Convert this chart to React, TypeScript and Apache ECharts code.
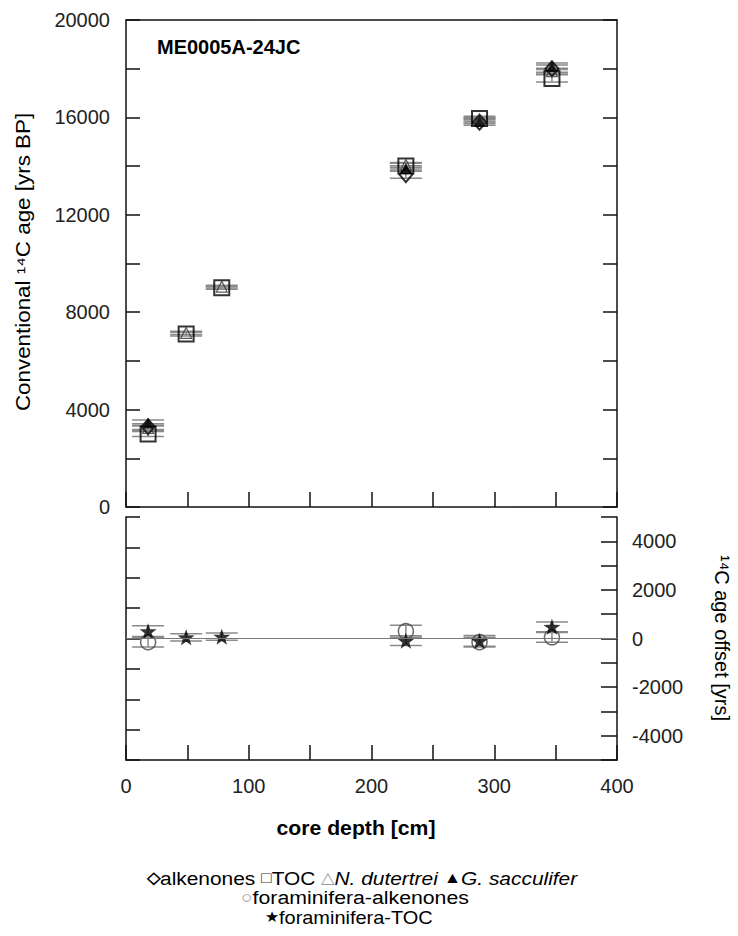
import React, { useEffect, useRef } from "react";
import * as echarts from "echarts";

// ---- data ----
const depths = [18, 49, 78, 228, 288, 347];
const alkenones = [3300, null, null, 13650, 15800, 18000];
const alkenonesErr = [120, null, null, 150, 120, 150];
const toc = [3000, 7100, 9000, 14000, 15950, 17600];
const tocErr = [100, 80, 60, 120, 100, 150];
const nDutertrei = [3250, 7150, 9050, 14050, 15900, 17900];
const nDutertreiErr = [110, 70, 60, 100, 90, 120];
const gSacculifer = [3450, null, null, 13900, 15850, 18100];
const gSacculiferErr = [120, null, null, 110, 100, 130];
const foramAlk = [-150, null, null, 300, -150, 50];
const foramAlkErr = [200, null, null, 250, 200, 200];
const foramToc = [300, 50, 75, -90, -100, 480];
const foramTocErr = [220, 150, 150, 200, 220, 200];

const topTicks = [0, 4000, 8000, 12000, 16000, 20000];
const offsetTicks = [-4000, -2000, 0, 2000, 4000];
const depthTicks = [0, 100, 200, 300, 400];

const FONT = "'Liberation Sans', Arial, sans-serif";
const STAR = "path://M0,-10 L2.35,-3.24 L9.51,-3.09 L3.8,1.24 L5.88,8.09 L0,4 L-5.88,8.09 L-3.8,1.24 L-9.51,-3.09 L-2.35,-3.24 Z";

function pts(v: (number | null)[]) {
  const out: number[][] = [];
  depths.forEach((d, i) => {
    if (v[i] != null) out.push([d, v[i] as number]);
  });
  return out;
}
function errPts(v: (number | null)[], e: (number | null)[]) {
  const out: number[][] = [];
  depths.forEach((d, i) => {
    if (v[i] != null) out.push([d, v[i] as number, (e[i] ?? 0) as number]);
  });
  return out;
}

function errSeries(data: number[][], xi: number, yi: number) {
  return {
    type: "custom",
    xAxisIndex: xi,
    yAxisIndex: yi,
    z: 1,
    silent: true,
    encode: { x: 0, y: 1 },
    data,
    renderItem: (params: any, api: any) => {
      const x = api.value(0), y = api.value(1), e = api.value(2);
      const t = api.coord([x, y + e]);
      const b = api.coord([x, y - e]);
      const hw = 16;
      const style = { stroke: "#8a8a8a", lineWidth: 1.5 };
      return {
        type: "group",
        children: [
          { type: "line", shape: { x1: t[0], y1: t[1], x2: b[0], y2: b[1] }, style },
          { type: "line", shape: { x1: t[0] - hw, y1: t[1], x2: t[0] + hw, y2: t[1] }, style },
          { type: "line", shape: { x1: b[0] - hw, y1: b[1], x2: b[0] + hw, y2: b[1] }, style },
        ],
      };
    },
  };
}

export default function App() {
  const ref = useRef<HTMLDivElement>(null);
  useEffect(() => {
    document.body.style.margin = "0";
    const chart = echarts.init(ref.current!, null, { renderer: "svg" });
    const axisLine = { show: true, onZero: false, lineStyle: { color: "#111", width: 1.5 } };
    const tick = (len: number) => ({ show: true, inside: true, length: len, lineStyle: { color: "#111", width: 1.5 } });
    const lbl = { color: "#222", fontSize: 20, fontFamily: FONT };
    const option: any = {
      animation: false,
      backgroundColor: "#fff",
      grid: [
        { left: 126, top: 20, width: 491, height: 487, show: false },
        { left: 126, top: 517, width: 491, height: 243, show: false },
      ],
      xAxis: [
        {
          type: "value", gridIndex: 0, min: 0, max: 400, interval: 50, position: "bottom",
          axisLine, axisTick: tick(15), axisLabel: { show: false }, splitLine: { show: false },
        },
        {
          type: "value", gridIndex: 0, min: 0, max: 400, interval: 50, position: "top",
          axisLine, axisTick: { show: false }, axisLabel: { show: false }, splitLine: { show: false },
        },
        {
          type: "value", gridIndex: 1, min: 0, max: 400, interval: 50, position: "bottom",
          axisLine, axisTick: tick(15), splitLine: { show: false },
          axisLabel: {
            ...lbl, margin: 16,
            formatter: (v: number) => (depthTicks.includes(v) ? String(v) : ""),
          },
        },
      ],
      yAxis: [
        {
          type: "value", gridIndex: 0, min: 0, max: 20000, interval: 2000, position: "left",
          axisLine, axisTick: tick(14), splitLine: { show: false },
          axisLabel: { ...lbl, margin: 16, formatter: (v: number) => (topTicks.includes(v) ? String(v) : "") },
        },
        {
          type: "value", gridIndex: 0, min: 0, max: 20000, interval: 2000, position: "right",
          axisLine, axisTick: tick(14), splitLine: { show: false }, axisLabel: { show: false },
        },
        {
          type: "value", gridIndex: 1, min: -5000, max: 5000, interval: 1250, position: "left",
          axisLine, axisTick: tick(14), splitLine: { show: false }, axisLabel: { show: false },
        },
        {
          type: "value", gridIndex: 1, min: -5000, max: 5000, interval: 1000, position: "right",
          axisLine, axisTick: tick(16), splitLine: { show: false },
          axisLabel: { ...lbl, margin: 15, formatter: (v: number) => (offsetTicks.includes(v) ? String(v) : "") },
        },
      ],
      series: [
        errSeries(errPts(toc, tocErr), 0, 0),
        errSeries(errPts(alkenones, alkenonesErr), 0, 0),
        errSeries(errPts(nDutertrei, nDutertreiErr), 0, 0),
        errSeries(errPts(gSacculifer, gSacculiferErr), 0, 0),
        errSeries(errPts(foramAlk, foramAlkErr), 2, 3),
        errSeries(errPts(foramToc, foramTocErr), 2, 3),
        {
          name: "TOC", type: "scatter", xAxisIndex: 0, yAxisIndex: 0, z: 3,
          symbol: "rect", symbolSize: 15, data: pts(toc),
          itemStyle: { color: "rgba(0,0,0,0)", borderColor: "#000", borderWidth: 2 },
        },
        {
          name: "alkenones", type: "scatter", xAxisIndex: 0, yAxisIndex: 0, z: 4,
          symbol: "diamond", symbolSize: [13, 15], data: pts(alkenones),
          itemStyle: { color: "rgba(0,0,0,0)", borderColor: "#000", borderWidth: 2 },
        },
        {
          name: "N. dutertrei", type: "scatter", xAxisIndex: 0, yAxisIndex: 0, z: 4,
          symbol: "triangle", symbolSize: 11, data: pts(nDutertrei),
          itemStyle: { color: "rgba(0,0,0,0)", borderColor: "#333", borderWidth: 1.2 },
        },
        {
          name: "G. sacculifer", type: "scatter", xAxisIndex: 0, yAxisIndex: 0, z: 4,
          symbol: "triangle", symbolSize: 11, data: pts(gSacculifer),
          itemStyle: { color: "#000" },
        },
        {
          name: "foraminifera-alkenones", type: "scatter", xAxisIndex: 2, yAxisIndex: 3, z: 3,
          symbol: "circle", symbolSize: 15, data: pts(foramAlk),
          itemStyle: { color: "rgba(0,0,0,0)", borderColor: "#444", borderWidth: 1.5 },
        },
        {
          name: "foraminifera-TOC", type: "scatter", xAxisIndex: 2, yAxisIndex: 3, z: 4,
          symbol: STAR, symbolSize: [17, 16], data: pts(foramToc),
          itemStyle: { color: "#000" },
          markLine: {
            silent: true, symbol: ["none", "none"], label: { show: false },
            lineStyle: { color: "#777", width: 1, type: "solid" },
            data: [{ yAxis: 0 }],
          },
        },
      ],
      graphic: [
        {
          type: "text", x: 157, y: 47,
          style: { text: "ME0005A-24JC", font: `bold 20px ${FONT}`, fill: "#000", verticalAlign: "middle", align: "left" },
        },
        {
          type: "text", x: 23, y: 262, rotation: Math.PI / 2, scaleX: 1.12,
          style: { text: "Conventional ¹⁴C age [yrs BP]", font: `20px ${FONT}`, fill: "#000", align: "center", verticalAlign: "middle" },
        },
        {
          type: "text", x: 722, y: 638, rotation: -Math.PI / 2,
          style: { text: "¹⁴C age offset [yrs]", font: `20px ${FONT}`, fill: "#000", align: "center", verticalAlign: "middle" },
        },
        {
          type: "text", x: 356, y: 828, scaleX: 1.06,
          style: { text: "core depth [cm]", font: `bold 20px ${FONT}`, fill: "#000", align: "center", verticalAlign: "middle" },
        },
        {
          type: "text", x: 362, y: 878, scaleX: 1.1,
          style: {
            text: "{s|◇}{n|alkenones }{g|□}{n|TOC }{l|△}{i|N. dutertrei }{s|▲}{i|G. sacculifer}",
            verticalAlign: "middle", align: "center",
            rich: {
              s: { fontSize: 16, lineHeight: 19, fontFamily: FONT, fill: "#000", fontWeight: "bold" },
              g: { fontSize: 16, lineHeight: 19, fontFamily: FONT, fill: "#333" },
              l: { fontSize: 16, lineHeight: 19, fontFamily: FONT, fill: "#999" },
              n: { fontSize: 19, lineHeight: 19, fontFamily: FONT, fill: "#000" },
              i: { fontSize: 19, lineHeight: 19, fontFamily: FONT, fill: "#000", fontStyle: "italic" },
            },
          },
        },
        {
          type: "text", x: 355, y: 897.5, scaleX: 1.12,
          style: {
            text: "{l|○}{n|foraminifera-alkenones}",
            verticalAlign: "middle", align: "center",
            rich: {
              l: { fontSize: 17, lineHeight: 19, fontFamily: FONT, fill: "#999" },
              n: { fontSize: 19, lineHeight: 19, fontFamily: FONT, fill: "#000" },
            },
          },
        },
        {
          type: "text", x: 349, y: 917, scaleX: 1.05,
          style: {
            text: "{s|★}{n|foraminifera-TOC}",
            verticalAlign: "middle", align: "center",
            rich: {
              s: { fontSize: 15, lineHeight: 19, fontFamily: FONT, fill: "#000" },
              n: { fontSize: 19, lineHeight: 19, fontFamily: FONT, fill: "#000" },
            },
          },
        },
      ],
    };
    chart.setOption(option);
    return () => chart.dispose();
  }, []);
  return <div ref={ref} style={{ position: "fixed", left: 0, top: 0, width: 738, height: 936 }} />;
}
